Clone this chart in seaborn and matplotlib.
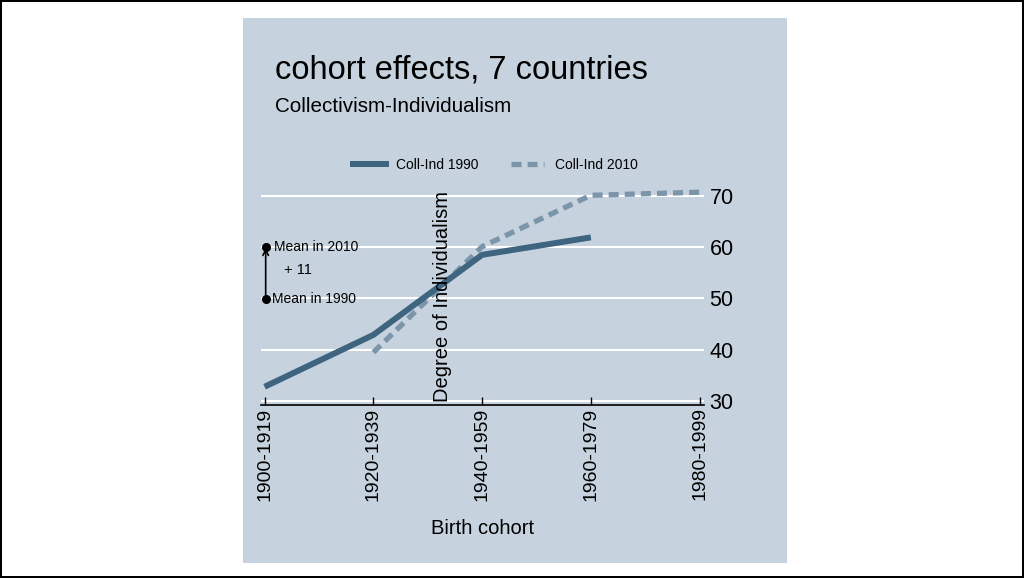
import matplotlib
matplotlib.use("Agg")
import matplotlib.pyplot as plt
import seaborn as sns
import pandas as pd
from matplotlib.patches import Rectangle
from matplotlib.lines import Line2D

# data
cohorts = ["1900-1919", "1920-1939", "1940-1959", "1960-1979", "1980-1999"]
coll_ind_1990 = [32.8, 42.9, 58.5, 61.9, None]
coll_ind_2010 = [None, 39.5, 60.1, 70.1, 70.7]
mean_1990 = 49.9
mean_2010 = 60.1
mean_diff_label = "+ 11"
y_ticks = [30, 40, 50, 60, 70]

panel_color = "#c6d3df"
col_1990 = "#3e6480"
col_2010 = "#7b95ab"

plt.rcParams['font.family'] = ['Liberation Sans', 'DejaVu Sans']

fig = plt.figure(figsize=(10.24, 5.78), dpi=100)
fig.patch.set_facecolor("white")
fig.patch.set_edgecolor("black")
fig.patch.set_linewidth(1.5)

# grey-blue panel behind the chart
fig.patches.append(Rectangle((0.2373, 0.026), 0.5313, 0.943, transform=fig.transFigure,
                             facecolor=panel_color, edgecolor="none", zorder=-1))

ax = fig.add_axes([0.2552, 0.2998, 0.4323, 0.3792])
ax.set_facecolor(panel_color)

df90 = pd.DataFrame({"pos": range(len(cohorts)), "value": coll_ind_1990}).dropna()
df10 = pd.DataFrame({"pos": range(len(cohorts)), "value": coll_ind_2010}).dropna()

sns.lineplot(data=df90, x="pos", y="value", ax=ax, color=col_1990, linewidth=4.3,
             solid_capstyle="butt", zorder=3)
sns.lineplot(data=df10, x="pos", y="value", ax=ax, color=col_2010, linewidth=3.8,
             dashes=False, zorder=2)
ax.get_lines()[-1].set_dashes((1.9, 1.15))
ax.get_lines()[-1].set_dash_capstyle("butt")

ax.set_xlim(-0.03, 4.04)
ax.set_ylim(29.3, 72)
ax.set_xticks(range(len(cohorts)))
ax.set_xticklabels(cohorts, rotation=90, fontsize=14)
ax.set_yticks(y_ticks)
ax.yaxis.tick_right()
ax.tick_params(axis="y", length=0, labelsize=15.5, pad=4)
ax.tick_params(axis="x", direction="in", length=6, width=1, color="black", pad=2)
for s in ["top", "left", "right"]:
    ax.spines[s].set_visible(False)
ax.spines["bottom"].set_color("black")
ax.spines["bottom"].set_linewidth(1.2)
ax.grid(axis="y", color="white", linewidth=1.5)
ax.grid(axis="x", visible=False)
ax.set_axisbelow(True)
ax.xaxis.set_zorder(0.6)  # x ticks above the white gridlines
ax.set_xlabel("")
ax.set_ylabel("")

# mean annotation
ax.plot([0.01, 0.01], [mean_1990, mean_2010], marker="o", markersize=5.5, color="black",
        linestyle="none", zorder=5, clip_on=False)
ax.annotate("", xy=(0.01, mean_2010), xytext=(0.01, mean_1990),
            arrowprops=dict(arrowstyle="->", color="black", lw=1.2, shrinkA=0, shrinkB=1))
ax.text(0.09, mean_2010, "Mean in 2010", fontsize=10, va="center", ha="left")
ax.text(0.07, mean_1990, "Mean in 1990", fontsize=10, va="center", ha="left")
ax.text(0.18, (mean_1990 + mean_2010) / 2 + 0.5, mean_diff_label, fontsize=10.5,
        va="center", ha="left")

# titles and axis labels
fig.text(275 / 1024, 1 - 78 / 578, "cohort effects, 7 countries", fontsize=23.5,
         ha="left", va="baseline")
fig.text(275 / 1024, 1 - 112 / 578, "Collectivism-Individualism", fontsize=14.9,
         ha="left", va="baseline")
fig.text(443 / 1024, 1 - 297 / 578, "Degree of Individualism", fontsize=14.5,
         rotation=90, ha="center", va="center")
fig.text(483 / 1024, 1 - 528 / 578, "Birth cohort", fontsize=14.5, ha="center", va="center")

handles = [Line2D([], [], color=col_1990, linewidth=4.3),
           Line2D([], [], color=col_2010, linewidth=3.8, dashes=(1.9, 1.15))]
fig.legend(handles, ["Coll-Ind 1990", "Coll-Ind 2010"], loc="center",
           bbox_to_anchor=(495 / 1024, 1 - 165 / 578), ncol=2, frameon=False,
           fontsize=10, handlelength=2.4, handletextpad=0.75, columnspacing=2.3)

fig.savefig("out.png", dpi=100, facecolor=fig.get_facecolor(), edgecolor=fig.get_edgecolor())
